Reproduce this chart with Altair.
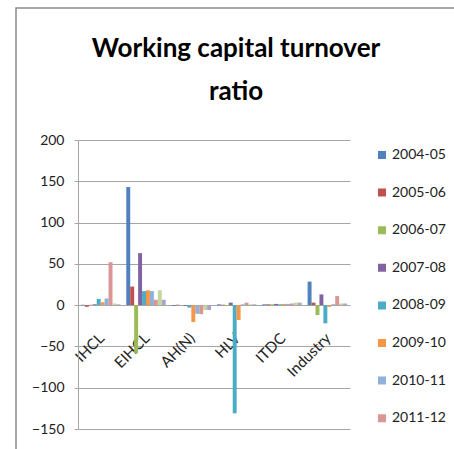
import altair as alt
import pandas as pd

companies = ["IHCL", "EIHCL", "AH(N)", "HLV", "ITDC", "Industry"]
series = ["2004-05", "2005-06", "2006-07", "2007-08", "2008-09",
          "2009-10", "2010-11", "2011-12", "2012-13", "2013-14"]
legend_shown = series[:8]

v_2004_05 = [0.5, 143, -1, 1, 1, 28.5]
v_2005_06 = [-2, 22.5, 0.5, 0.5, 1, 3]
v_2006_07 = [0.5, -58, -0.5, -1, 1, -12]
v_2007_08 = [1, 63, -1, 3, 1.5, 13]
v_2008_09 = [7.5, 17, -3, -131, 1, -22]
v_2009_10 = [3.5, 18, -20.5, -18, 1.5, -2]
v_2010_11 = [8, 17, -10.5, 1, 1.5, 1]
v_2011_12 = [52, 6.5, -11, 3, 2, 11]
v_2012_13 = [2, 18, -6, 1, 3, 2]
v_2013_14 = [1, 6.5, -6, 1, 3, 2]

all_vals = [v_2004_05, v_2005_06, v_2006_07, v_2007_08, v_2008_09,
            v_2009_10, v_2010_11, v_2011_12, v_2012_13, v_2013_14]

colors = ["#4F81BD", "#C0504D", "#9BBB59", "#8064A2", "#4BACC6",
          "#F79646", "#8FB0DA", "#D99694", "#C3D69B", "#B3A2C7"]

rows = []
for s, vals in zip(series, all_vals):
    for c, v in zip(companies, vals):
        rows.append({"company": c, "year": s, "value": v})
df = pd.DataFrame(rows)

FONT = "Lato"

frame = alt.Chart(pd.DataFrame({"a": [0]})).mark_rect(
    fillOpacity=0, stroke="#8c8c8c", strokeWidth=1.5
).encode(
    x=alt.value(-62), x2=alt.value(390), y=alt.value(-132), y2=alt.value(320)
)

bars = alt.Chart(df).mark_bar().encode(
    x=alt.X("company:N", sort=companies,
            scale=alt.Scale(paddingInner=0.13, paddingOuter=0.065),
            axis=alt.Axis(title=None, labelAngle=-45, offset=-123.7,
                          domain=False, ticks=False, labelPadding=25,
                          labelOffset=-4,
                          labelFont=FONT, labelFontSize=15, labelColor="#222")),
    xOffset=alt.XOffset("year:N", sort=series,
                        scale=alt.Scale(paddingInner=0, paddingOuter=0)),
    y=alt.Y("value:Q", scale=alt.Scale(domain=[-150, 200], nice=False),
            axis=alt.Axis(title=None, values=[-150, -100, -50, 0, 50, 100, 150, 200],
                          grid=True, gridColor="#a6a6a6", domainColor="#a6a6a6",
                          tickColor="#a6a6a6", tickSize=4, labelPadding=10,
                          labelFont=FONT, labelFontSize=14, labelColor="#222")),
    color=alt.Color("year:N", sort=series,
                    scale=alt.Scale(domain=series, range=colors),
                    legend=alt.Legend(title=None, values=legend_shown, orient="none",
                                      legendX=297, legendY=8, padding=0,
                                      symbolType="square", symbolSize=64,
                                      symbolStrokeWidth=0, labelFont=FONT,
                                      labelFontSize=14, labelColor="#222",
                                      labelOffset=3, rowPadding=23.6,
                                      clipHeight=14)),
)

chart = alt.layer(frame, bars).properties(
    width=272, height=289,
    autosize=alt.AutoSizeParams(type="none"),
    padding={"left": 78, "top": 140, "right": 104, "bottom": 20},
    title=alt.TitleParams(["Working capital turnover", "ratio"], font=FONT,
                          fontSize=26, fontWeight="bold", color="#000",
                          lineHeight=43, anchor="middle", dx=22, offset=-98),
).configure_view(strokeWidth=0)

chart.save("out.html", embed_options={"renderer": "svg", "actions": False})
